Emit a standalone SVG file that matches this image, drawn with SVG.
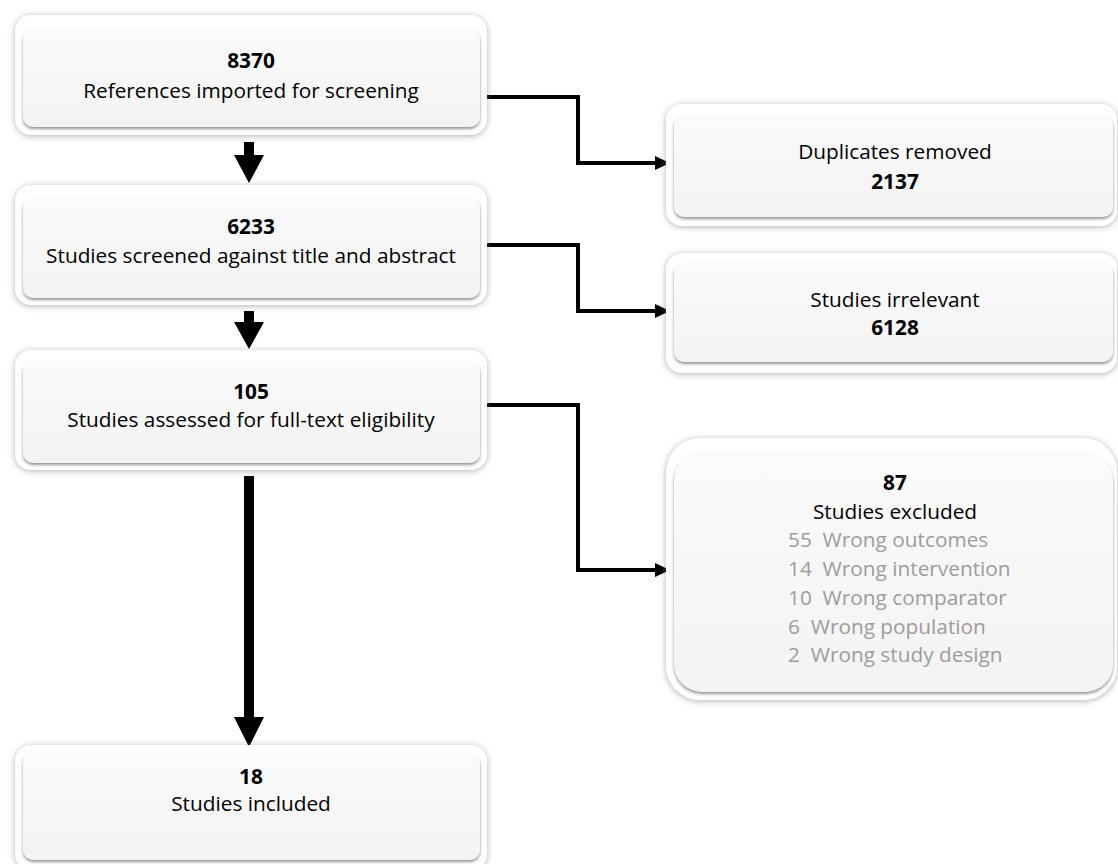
<svg xmlns="http://www.w3.org/2000/svg" width="1118" height="864" viewBox="0 0 1118 864">
<defs>
<filter id="outerSh" x="-10%" y="-20%" width="120%" height="140%">
<feDropShadow dx="0" dy="1" stdDeviation="3" flood-color="#7a7a7a" flood-opacity="0.6"/>
</filter>
<filter id="innerSh" x="-10%" y="-20%" width="120%" height="140%">
<feDropShadow dx="0" dy="2" stdDeviation="1.6" flood-color="#707070" flood-opacity="0.75"/>
</filter>
<linearGradient id="innerFill" x1="0" y1="0" x2="0" y2="1">
<stop offset="0" stop-color="#fbfbfb"/>
<stop offset="1" stop-color="#f3f3f3"/>
</linearGradient>
<marker id="ah" markerUnits="userSpaceOnUse" markerWidth="16" markerHeight="16" viewBox="0 0 16 16" refX="1" refY="8" orient="auto">
<polygon points="0,1 15,8 0,15" fill="#000"/>
</marker>
</defs>
<style>
.outer{fill:#ffffff;filter:url(#outerSh);}
.inner{fill:url(#innerFill);filter:url(#innerSh);}
text{font-family:"Open Sans","Liberation Sans",sans-serif;font-size:20.8px;fill:#000;text-anchor:middle;white-space:pre;}
.b{font-weight:bold;}
.g{fill:#9c9c9c;text-anchor:start;}
.con{fill:none;stroke:#000;stroke-width:4;}
.blk{fill:#000;}
</style>
<g id="connectors">
<path class="con" d="M487,97 H578 V163 H656" marker-end="url(#ah)"/>
<path class="con" d="M487,245 H578 V311 H656" marker-end="url(#ah)"/>
<path class="con" d="M487,405 H578 V570 H656" marker-end="url(#ah)"/>
<polygon class="blk" points="244,142 254,142 254,155 264,155 249,183 234,155 244,155"/>
<polygon class="blk" points="244,311 254,311 254,322 264,322 249,349 234,322 244,322"/>
<polygon class="blk" points="244,476 254,476 254,717 264,717 249,747 234,717 244,717"/>
</g>
<g id="node-references">
<rect class="outer" x="15" y="15" width="472" height="120" rx="16"/>
<rect class="inner" x="23" y="29" width="457" height="98" rx="10"/>
<text class="b" x="251" y="68">8370</text>
<text x="251" y="98">References imported for screening</text>
</g>
<g id="node-screened">
<rect class="outer" x="15" y="185" width="472" height="120" rx="16"/>
<rect class="inner" x="23" y="198" width="457" height="100" rx="10"/>
<text class="b" x="251" y="234">6233</text>
<text x="251" y="263">Studies screened against title and abstract</text>
</g>
<g id="node-assessed">
<rect class="outer" x="15" y="350" width="472" height="120" rx="16"/>
<rect class="inner" x="23" y="361" width="457" height="102" rx="10"/>
<text class="b" x="251" y="399">105</text>
<text x="251" y="427">Studies assessed for full-text eligibility</text>
</g>
<g id="node-included">
<rect class="outer" x="15" y="745" width="472" height="125" rx="16"/>
<rect class="inner" x="23" y="753" width="457" height="107" rx="10"/>
<text class="b" x="251" y="784">18</text>
<text x="251" y="811">Studies included</text>
</g>
<g id="node-duplicates">
<rect class="outer" x="666" y="104" width="451" height="122" rx="16"/>
<rect class="inner" x="674" y="115" width="439" height="102" rx="10"/>
<text x="895" y="159">Duplicates removed</text>
<text class="b" x="895" y="189">2137</text>
</g>
<g id="node-irrelevant">
<rect class="outer" x="666" y="253" width="451" height="120" rx="16"/>
<rect class="inner" x="674" y="263" width="439" height="99" rx="10"/>
<text x="895" y="307">Studies irrelevant</text>
<text class="b" x="895" y="335">6128</text>
</g>
<g id="node-excluded">
<rect class="outer" x="666" y="438" width="451" height="262" rx="34"/>
<rect class="inner" x="674" y="452" width="439" height="240" rx="28"/>
<text class="b" x="895" y="490">87</text>
<text x="895" y="519">Studies excluded</text>
<text class="g" x="788" y="547">55  Wrong outcomes</text>
<text class="g" x="788" y="576">14  Wrong intervention</text>
<text class="g" x="788" y="605">10  Wrong comparator</text>
<text class="g" x="788" y="634">6  Wrong population</text>
<text class="g" x="788" y="662">2  Wrong study design</text>
</g>
</svg>
